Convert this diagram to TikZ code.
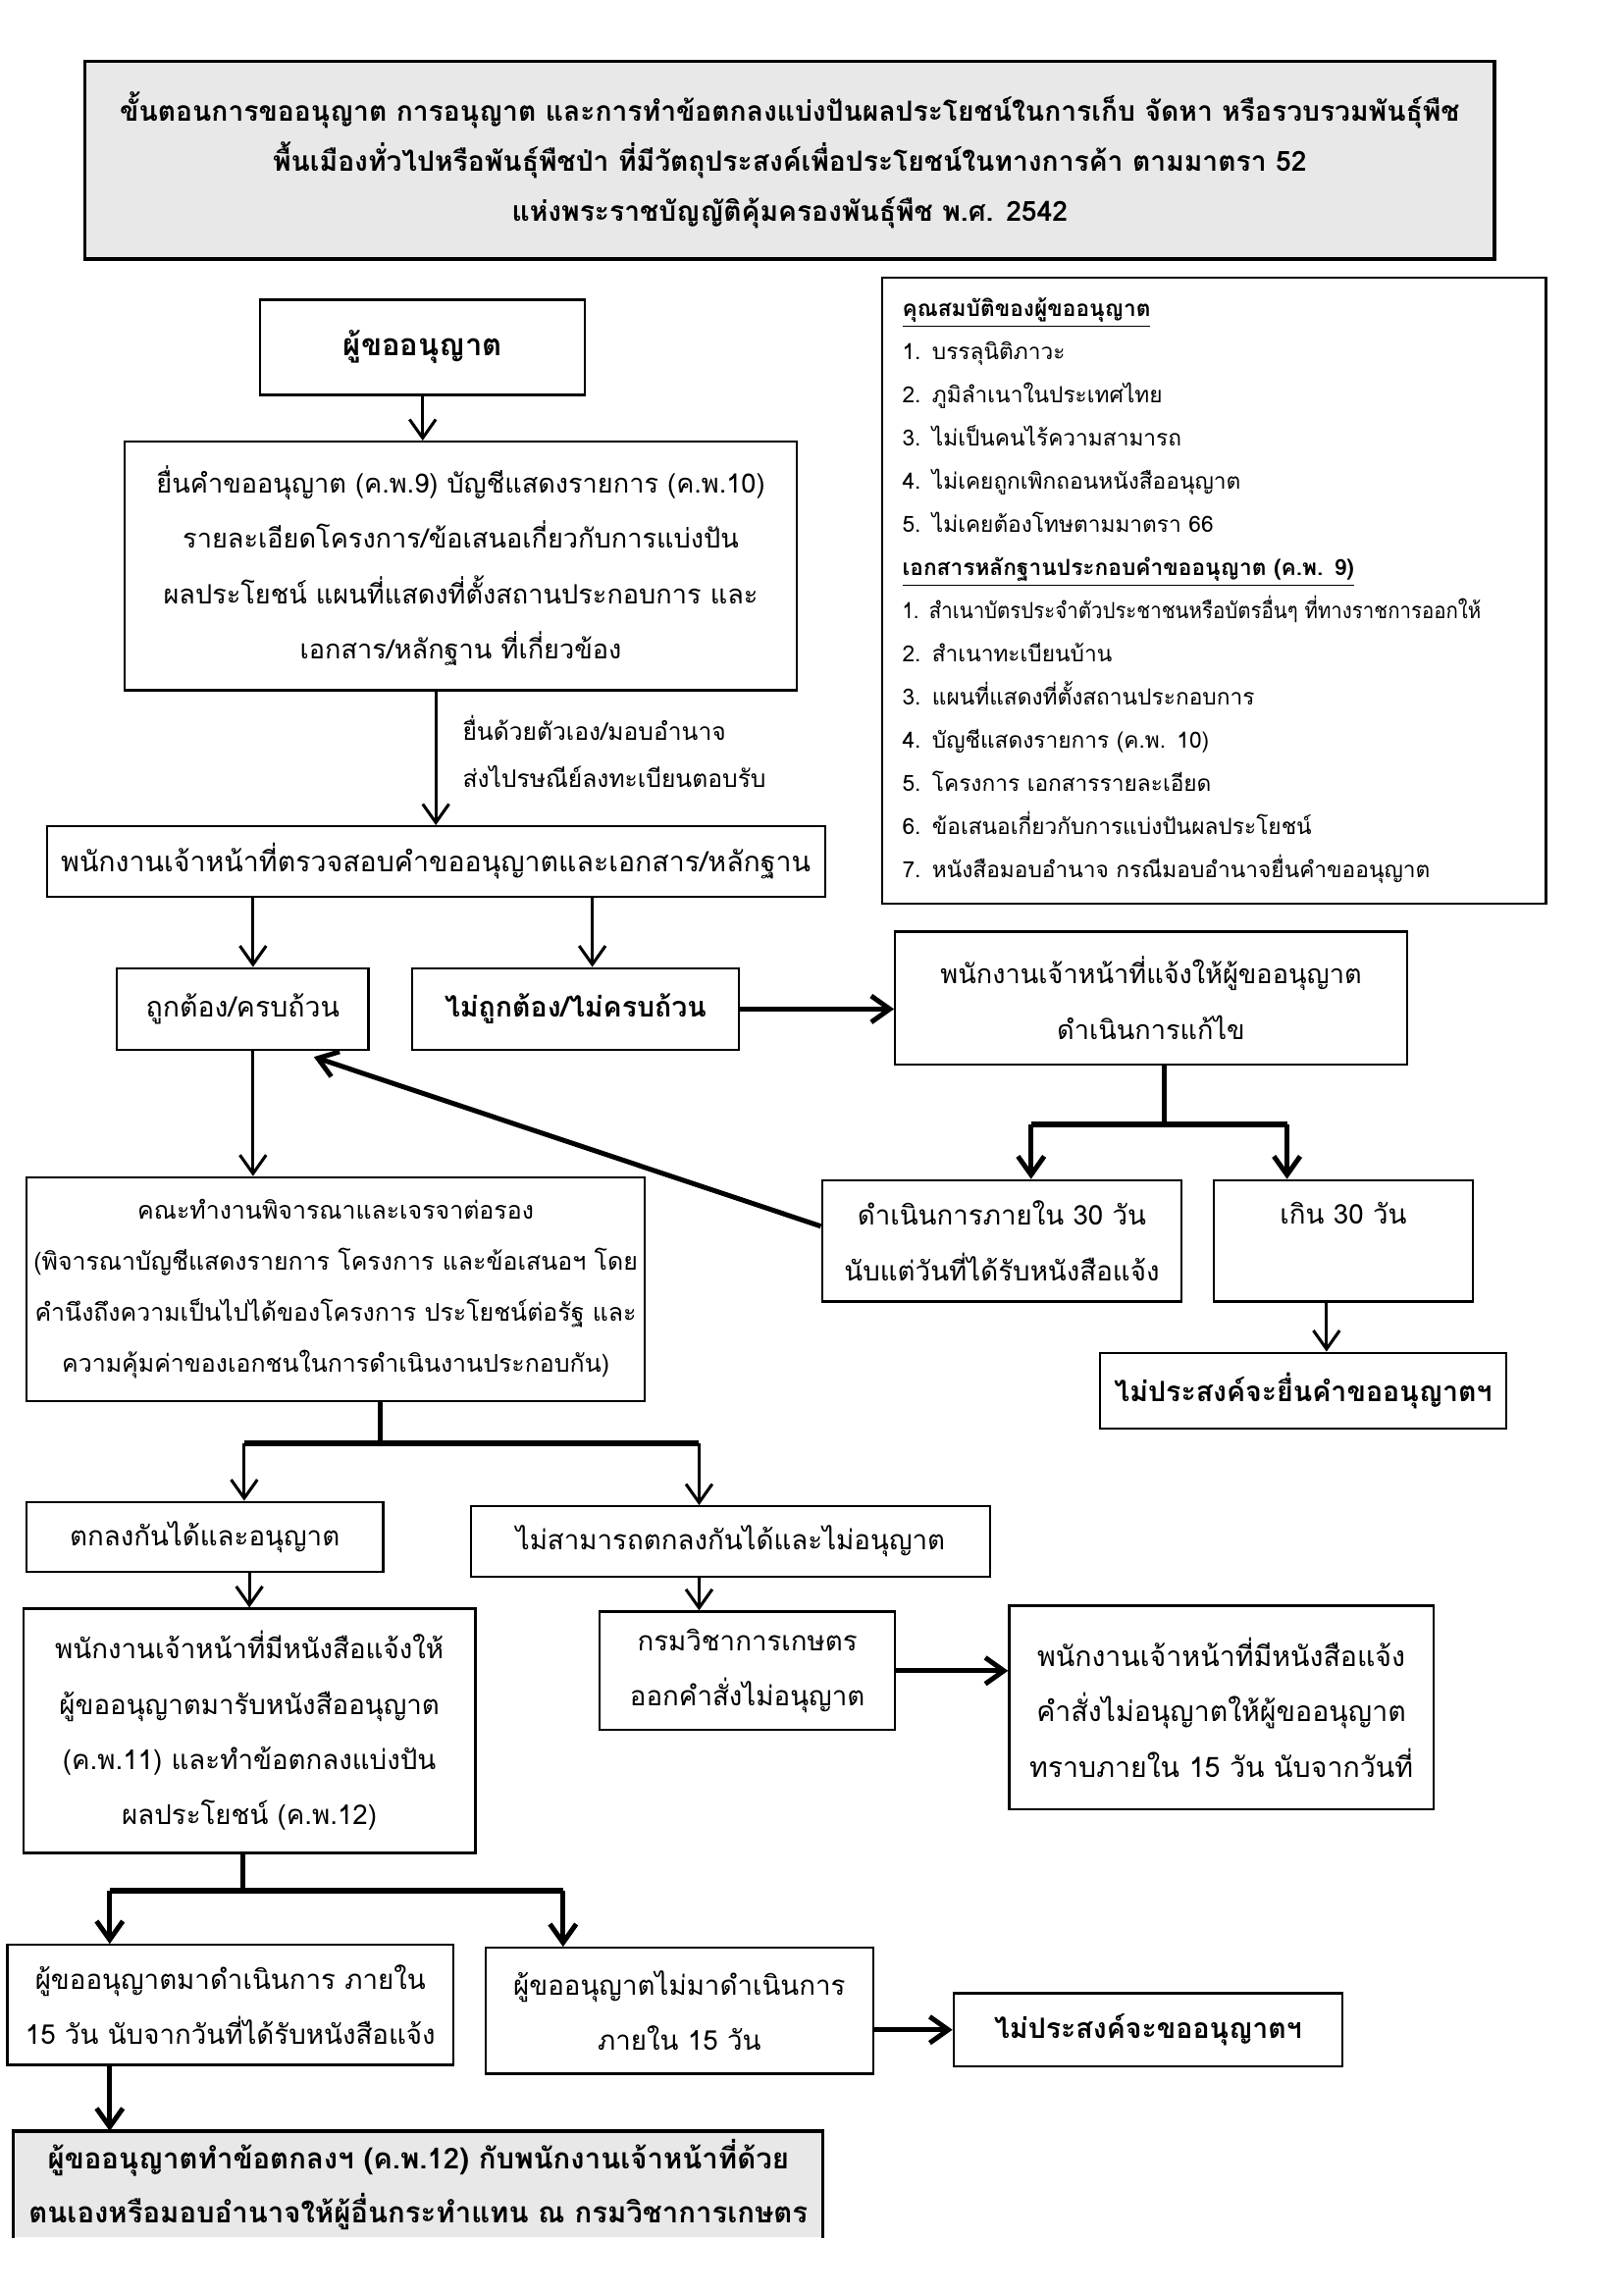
\documentclass[tikz,border=0pt]{standalone}
\usepackage{fontspec}
\usepackage{graphicx}
\setmainfont[Script=Thai]{Loma}
\usetikzlibrary{arrows.meta,calc}
\newlength\pxu
\setlength\pxu{0.18925mm}
\newcommand\mybox[7][]{\node[bx,#1,minimum width={(#5-#3)*\pxu},minimum height={(#6-#4)*\pxu}] (#2) at ({(#3+#5)/2},{(#4+#6)/2}) {#7};}
\tikzset{
  bx/.style={draw, line width=0.8pt, align=center, inner sep=0pt, font=\fontsize{10}{20.4}\selectfont},
  ttl/.style={fill=gray!18, line width=1.3pt, font=\bfseries\fontsize{10.2}{18.5}\selectfont},
  bold/.style={font=\bfseries\fontsize{10.3}{20}\selectfont},
  big/.style={font=\bfseries\fontsize{11.2}{20}\selectfont},
  arr/.style={line width=1.1pt, -{Straight Barb[length=2.4mm,width=3.4mm]}},
  arrt/.style={line width=1.8pt, -{Straight Barb[length=2.4mm,width=3.4mm]}},
  thk/.style={line width=2pt},
}
\begin{document}
\begin{tikzpicture}[x=0.18925mm, y=-0.18925mm]
\fill[white] (0,0) rectangle (1110,1568);
\useasboundingbox (0,0) rectangle (1110,1568);

\mybox[ttl]{T}{58}{42}{1022}{177}{ขั้นตอนการขออนุญาต การอนุญาต และการทำข้อตกลงแบ่งปันผลประโยชน์ในการเก็บ จัดหา หรือรวบรวมพันธุ์พืช\\พื้นเมืองทั่วไปหรือพันธุ์พืชป่า ที่มีวัตถุประสงค์เพื่อประโยชน์ในทางการค้า ตามมาตรา 52\\แห่งพระราชบัญญัติคุ้มครองพันธุ์พืช พ.ศ. 2542}

\mybox[big]{A}{178}{205}{400}{270}{ผู้ขออนุญาต}
\mybox[font=\fontsize{9.8}{20.4}\selectfont]{B}{85}{302}{545}{472}{ยื่นคำขออนุญาต (ค.พ.9) บัญชีแสดงรายการ (ค.พ.10)\\รายละเอียดโครงการ/ข้อเสนอเกี่ยวกับการแบ่งปัน\\ผลประโยชน์ แผนที่แสดงที่ตั้งสถานประกอบการ และ\\เอกสาร/หลักฐาน ที่เกี่ยวข้อง}
\node[anchor=west, align=left, inner sep=0pt, font=\fontsize{8.9}{17.5}\selectfont] (lab) at (316,514) {ยื่นด้วยตัวเอง/มอบอำนาจ\\ส่งไปรษณีย์ลงทะเบียนตอบรับ};
\mybox[font=\fontsize{10.3}{20.4}\selectfont]{C}{32}{565}{564}{613}{พนักงานเจ้าหน้าที่ตรวจสอบคำขออนุญาตและเอกสาร/หลักฐาน}
\mybox[font=\fontsize{10.3}{20.4}\selectfont]{D}{80}{662}{252}{718}{ถูกต้อง/ครบถ้วน}
\mybox[bold]{E}{282}{662}{505}{718}{ไม่ถูกต้อง/ไม่ครบถ้วน}
\mybox[font=\fontsize{9.8}{20.4}\selectfont]{F}{612}{637}{962}{728}{พนักงานเจ้าหน้าที่แจ้งให้ผู้ขออนุญาต\\ดำเนินการแก้ไข}

\mybox[align=left, inner xsep=14*\pxu, text width=426*\pxu, font=\fontsize{8.2}{15.9}\selectfont]{INFO}{603}{190}{1057}{618}{%
{\bfseries\underline{คุณสมบัติของผู้ขออนุญาต}}\\
1. บรรลุนิติภาวะ\\
2. ภูมิลำเนาในประเทศไทย\\
3. ไม่เป็นคนไร้ความสามารถ\\
4. ไม่เคยถูกเพิกถอนหนังสืออนุญาต\\
5. ไม่เคยต้องโทษตามมาตรา 66\\
{\bfseries\underline{เอกสารหลักฐานประกอบคำขออนุญาต (ค.พ. 9)}}\\
\scalebox{0.9}[1]{1. สำเนาบัตรประจำตัวประชาชนหรือบัตรอื่นๆ ที่ทางราชการออกให้}\\
2. สำเนาทะเบียนบ้าน\\
3. แผนที่แสดงที่ตั้งสถานประกอบการ\\
4. บัญชีแสดงรายการ (ค.พ. 10)\\
5. โครงการ เอกสารรายละเอียด\\
6. ข้อเสนอเกี่ยวกับการแบ่งปันผลประโยชน์\\
7. หนังสือมอบอำนาจ กรณีมอบอำนาจยื่นคำขออนุญาต}

\mybox{G}{562}{807}{808}{890}{ดำเนินการภายใน 30 วัน\\นับแต่วันที่ได้รับหนังสือแจ้ง}
\mybox{H}{830}{807}{1007}{890}{เกิน 30 วัน\\\mbox{}}
\mybox[bold]{I}{752}{925}{1030}{977}{ไม่ประสงค์จะยื่นคำขออนุญาตฯ}
\mybox[font=\fontsize{9}{18.8}\selectfont]{J}{18}{805}{441}{958}{คณะทำงานพิจารณาและเจรจาต่อรอง\\(พิจารณาบัญชีแสดงรายการ โครงการ และข้อเสนอฯ โดย\\คำนึงถึงความเป็นไปได้ของโครงการ ประโยชน์ต่อรัฐ และ\\ความคุ้มค่าของเอกชนในการดำเนินงานประกอบกัน)}
\mybox{K}{18}{1027}{262}{1075}{ตกลงกันได้และอนุญาต}
\mybox{L}{322}{1030}{677}{1078}{ไม่สามารถตกลงกันได้และไม่อนุญาต}
\mybox{M}{16}{1100}{325}{1267}{พนักงานเจ้าหน้าที่มีหนังสือแจ้งให้\\ผู้ขออนุญาตมารับหนังสืออนุญาต\\(ค.พ.11) และทำข้อตกลงแบ่งปัน\\ผลประโยชน์ (ค.พ.12)}
\mybox{N}{410}{1102}{612}{1183}{กรมวิชาการเกษตร\\ออกคำสั่งไม่อนุญาต}
\mybox[font=\fontsize{10.3}{20.4}\selectfont]{O}{690}{1098}{980}{1237}{พนักงานเจ้าหน้าที่มีหนังสือแจ้ง\\คำสั่งไม่อนุญาตให้ผู้ขออนุญาต\\ทราบภายใน 15 วัน นับจากวันที่}
\mybox{P}{5}{1330}{310}{1412}{ผู้ขออนุญาตมาดำเนินการ ภายใน\\15 วัน นับจากวันที่ได้รับหนังสือแจ้ง}
\mybox{Q}{332}{1332}{597}{1418}{ผู้ขออนุญาตไม่มาดำเนินการ\\ภายใน 15 วัน}
\mybox[bold]{R}{652}{1363}{918}{1413}{ไม่ประสงค์จะขออนุญาตฯ}
\mybox[draw=none, fill=gray!18, font=\bfseries\fontsize{10.6}{20}\selectfont]{S}{10}{1458}{562}{1530}{ผู้ขออนุญาตทำข้อตกลงฯ (ค.พ.12) กับพนักงานเจ้าหน้าที่ด้วย\\ตนเองหรือมอบอำนาจให้ผู้อื่นกระทำแทน ณ กรมวิชาการเกษตร}
\draw[line width=1.2pt] (S.south west) -- (S.north west) -- (S.north east) -- (S.south east);

% connectors
\draw[arr] (A) -- (A |- B.north);
\draw[arr] (C.north |- B.south) -- (C.north);
\coordinate (dx) at (173,690);
\coordinate (ex) at (405,690);
\draw[arr] (dx |- C.south) -- (dx |- D.north);
\draw[arr] (ex |- C.south) -- (ex |- E.north);
\draw[arrt] (E.east) -- (E.east -| F.west);
\coordinate (fb) at (796,769);
\coordinate (gx) at (705,769);
\coordinate (hx) at (880,769);
\draw[thk] (fb |- F.south) -- (fb);
\draw[thk] (gx) -- (hx);
\draw[arrt] (gx) -- (gx |- G.north);
\draw[arrt] (hx) -- (hx |- H.north);
\coordinate (ix) at (907,900);
\draw[arr] (ix |- H.south) -- (ix |- I.north);
\draw[arrt] ($(G.west)+(0,-10)$) -- ($(D.south east)!0.22!(D.south west)+(0,4)$);
\draw[arr] (dx |- D.south) -- (dx |- J.north);
\coordinate (jb) at (260,987);
\coordinate (kx) at (167,987);
\coordinate (lx) at (478,987);
\draw[thk] (jb |- J.south) -- (jb);
\draw[thk] (kx) -- (lx);
\draw[arr] (kx) -- (kx |- K.north);
\draw[arr] (lx) -- (lx |- L.north);
\draw[arr] (M.north |- K.south) -- (M.north);
\draw[arr] (lx |- L.south) -- (lx |- N.north);
\draw[arrt] (N.east) -- (N.east -| O.west);
\coordinate (mb) at (166,1293);
\coordinate (px) at (75,1293);
\coordinate (qx) at (385,1293);
\draw[thk] (mb |- M.south) -- (mb);
\draw[thk] (px) -- (qx);
\draw[arrt] (px) -- (px |- P.north);
\draw[arrt] (qx) -- (qx |- Q.north);
\draw[arrt] (R.west -| Q.east) -- (R.west);
\draw[arrt] (px |- P.south) -- (px |- S.north);
\end{tikzpicture}
\end{document}
